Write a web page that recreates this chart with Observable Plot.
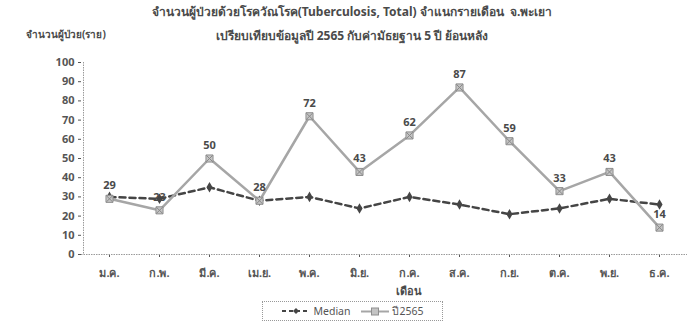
<!DOCTYPE html>
<html>
<head>
<meta charset="utf-8">
<script src="https://cdn.jsdelivr.net/npm/d3@7"></script>
<script src="https://cdn.jsdelivr.net/npm/@observablehq/plot@0.6"></script>
<style>
  body { margin: 0; background: #fff; font-family: Tahoma, "Noto Sans", "DejaVu Sans", sans-serif; color: #444; }
  #wrap { position: relative; width: 688px; height: 325px; overflow: hidden; }
  .t { position: absolute; white-space: nowrap; font-weight: bold; font-size: 12px; color: #4a4a4a; }
  #chart { position: absolute; left: 0; top: 48px; }
  #legend { position: absolute; left: 262px; top: 301px; width: 179px; height: 18px; border: 1px dotted #999;
            font-size: 10.5px; display: flex; align-items: center; justify-content: center; gap: 10px; color: #555; }
  #legend span { display: inline-flex; align-items: center; gap: 2px; }
</style>
</head>
<body>
<div id="wrap">
  <div class="t" id="t1" style="left:0;width:704px;text-align:center;top:2px;">จำนวนผู้ป่วยด้วยโรควัณโรค(Tuberculosis, Total) จำแนกรายเดือน &nbsp;จ.พะเยา</div>
  <div class="t" id="t2" style="left:0;width:704px;text-align:center;top:26px;">เปรียบเทียบข้อมูลปี 2565 กับค่ามัธยฐาน 5 ปี ย้อนหลัง</div>
  <div class="t" style="left:26px;top:27px;font-size:10px;">จำนวนผู้ป่วย(ราย)</div>
  <div id="chart"></div>
  <div class="t" style="left:396px;top:282px;font-size:11px;">เดือน</div>
  <div id="legend"></div>
</div>
<script>
// Monthly tuberculosis cases, Phayao province
const months = ["ม.ค.", "ก.พ.", "มี.ค.", "เม.ย.", "พ.ค.", "มิ.ย.", "ก.ค.", "ส.ค.", "ก.ย.", "ต.ค.", "พ.ย.", "ธ.ค."];
const cases2565 = [29, 23, 50, 28, 72, 43, 62, 87, 59, 33, 43, 14];
const median5y = [30, 29, 35, 28, 30, 24, 30, 26, 21, 24, 29, 26];
const yTicks = [0, 10, 20, 30, 40, 50, 60, 70, 80, 90, 100];
const seriesNames = ["Median", "ปี2565"];

const rows2565 = months.map((m, i) => ({month: m, value: cases2565[i]}));
const rowsMedian = months.map((m, i) => ({month: m, value: median5y[i]}));

const lineGray = "#a6a6a6";
const medianColor = "#454545";

const chart = Plot.plot({
  width: 688,
  height: 250,
  marginTop: 14,
  marginBottom: 44,
  marginLeft: 81,
  marginRight: 1,
  style: {fontFamily: "Tahoma, 'Noto Sans', 'DejaVu Sans', sans-serif", fontSize: "11px", color: "#555", fontWeight: "bold", background: "transparent"},
  x: {type: "point", domain: months, padding: 0.5, label: null, tickSize: 3, tickPadding: 12},
  y: {domain: [0, 100], ticks: yTicks, label: null, tickSize: 3, tickPadding: 4},
  marks: [
    Plot.ruleY([0], {stroke: "#9a9a9a", strokeDasharray: "1.5,1"}),
    Plot.ruleX([months[0]], {dx: -26, stroke: "#9a9a9a", strokeDasharray: "1.5,1"}),
    Plot.line(rowsMedian, {x: "month", y: "value", stroke: medianColor, strokeWidth: 2.5, strokeDasharray: "6,4"}),
    Plot.dot(rowsMedian, {x: "month", y: "value", symbol: "diamond", r: 3.2, fill: medianColor, stroke: "none"}),
    Plot.line(rows2565, {x: "month", y: "value", stroke: lineGray, strokeWidth: 2.5}),
    Plot.dot(rows2565, {x: "month", y: "value", symbol: "square", r: 4, fill: "#c4c4c4", stroke: "#8f8f8f", strokeWidth: 1}),
    Plot.dot(rows2565, {x: "month", y: "value", symbol: "times", r: 3, stroke: "#888", strokeWidth: 1}),
    Plot.text(rows2565, {x: "month", y: "value", text: "value", dy: -13, fill: "#4a4a4a", fontSize: 11, fontWeight: "bold"})
  ]
});
document.getElementById("chart").appendChild(chart);

// Legend: dashed median sample and solid 2565 sample
const legend = document.getElementById("legend");
legend.innerHTML = `
  <span><svg width="30" height="8"><line x1="1" y1="4" x2="29" y2="4" stroke="${medianColor}" stroke-width="2" stroke-dasharray="4,3"/><path d="M15,1 L18,4 L15,7 L12,4Z" fill="${medianColor}"/></svg>${seriesNames[0]}</span>
  <span><svg width="30" height="9"><line x1="1" y1="4.5" x2="29" y2="4.5" stroke="${lineGray}" stroke-width="2"/><rect x="11.5" y="1" width="7" height="7" fill="#c4c4c4" stroke="#8f8f8f"/></svg>${seriesNames[1]}</span>`;
</script>
</body>
</html>
